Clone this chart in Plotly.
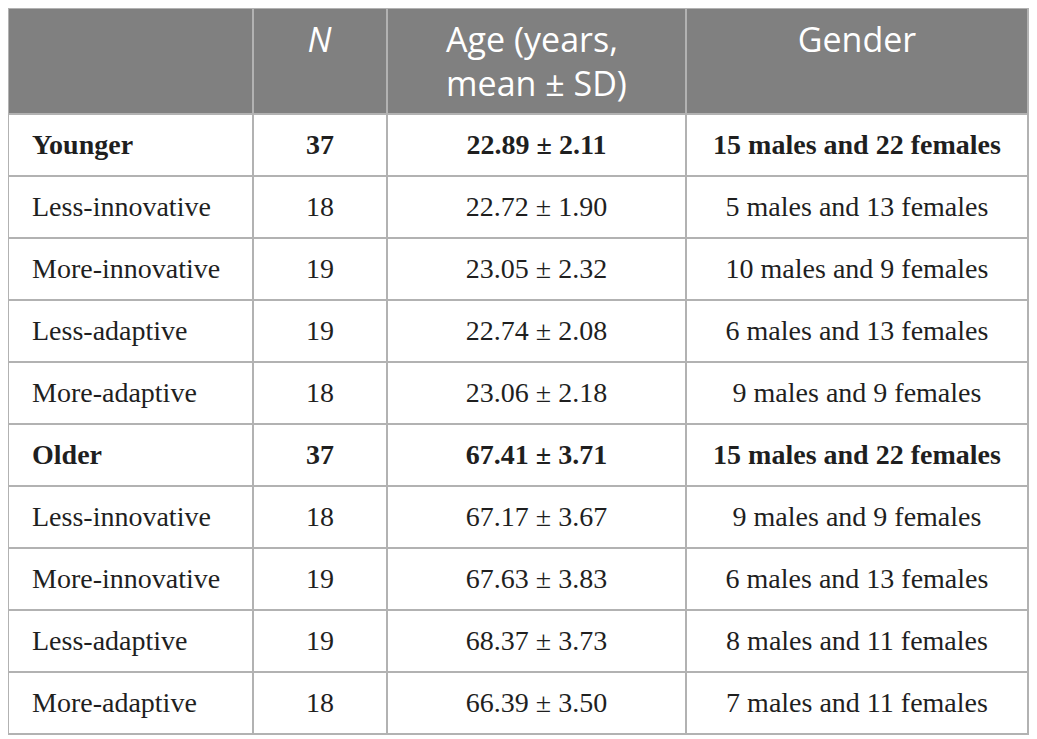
import plotly.graph_objects as go

# Tabellendaten
groups = ["Younger", "Less-innovative", "More-innovative", "Less-adaptive", "More-adaptive",
          "Older", "Less-innovative", "More-innovative", "Less-adaptive", "More-adaptive"]
n_values = [37, 18, 19, 19, 18, 37, 18, 19, 19, 18]
age_mean = ["22.89", "22.72", "23.05", "22.74", "23.06", "67.41", "67.17", "67.63", "68.37", "66.39"]
age_sd = ["2.11", "1.90", "2.32", "2.08", "2.18", "3.71", "3.67", "3.83", "3.73", "3.50"]
males = [15, 5, 10, 6, 9, 15, 9, 6, 8, 7]
females = [22, 13, 9, 13, 9, 22, 9, 13, 11, 11]
bold_rows = {0, 5}
headers = ["", "<i>N</i><br>", "Age (years,<br>mean ± SD)", "Gender<br>"]

# Seite hat 8px Body-Rand -> Figur so bemessen, dass sie ins Fenster passt
W, H = 1029, 731
GRID = "#b2b2b2"
NB = "\u00a0"


def cell(i, s, centered=True):
    # Plotly richtet Zelltext oben aus: ein grosses NBSP (36px) in der Zeile
    # drueckt den 28px-Text etwa in die Zellmitte; <br> verhindert Wortumbruch
    s = f"<b>{s}</b>" if i in bold_rows else s
    if centered:
        return f"{NB}<span style=\"font-size:28px\">{s}</span>{NB}<br>"
    return f"{NB}<span style=\"font-size:28px\">{NB}{s}</span><br>"


col_group = [cell(i, g, centered=False) for i, g in enumerate(groups)]
col_n = [cell(i, str(v)) for i, v in enumerate(n_values)]
col_age = [cell(i, f"{m} ± {s}") for i, (m, s) in enumerate(zip(age_mean, age_sd))]
col_gender = [cell(i, f"{m} males and {f} females") for i, (m, f) in enumerate(zip(males, females))]

fig = go.Figure(go.Table(
    domain=dict(x=[0, 1020 / W], y=[1 - 729 / H, 1]),
    columnwidth=[245, 134, 299, 342],
    header=dict(
        values=headers, height=102,
        fill_color="#808080", line=dict(color=GRID, width=2),
        font=dict(family="Open Sans", size=34, color="white"),
        align="center",
    ),
    cells=dict(
        values=[col_group, col_n, col_age, col_gender], height=62,
        fill_color="white", line=dict(color=GRID, width=2),
        font=dict(family="Liberation Serif", size=36, color="#1f1f1f"),
        align=["left", "center", "center", "center"],
    ),
))
fig.update_layout(width=W, height=H, margin=dict(l=0, r=0, t=0, b=0),
                  paper_bgcolor="white")
fig.write_html("out.html")
